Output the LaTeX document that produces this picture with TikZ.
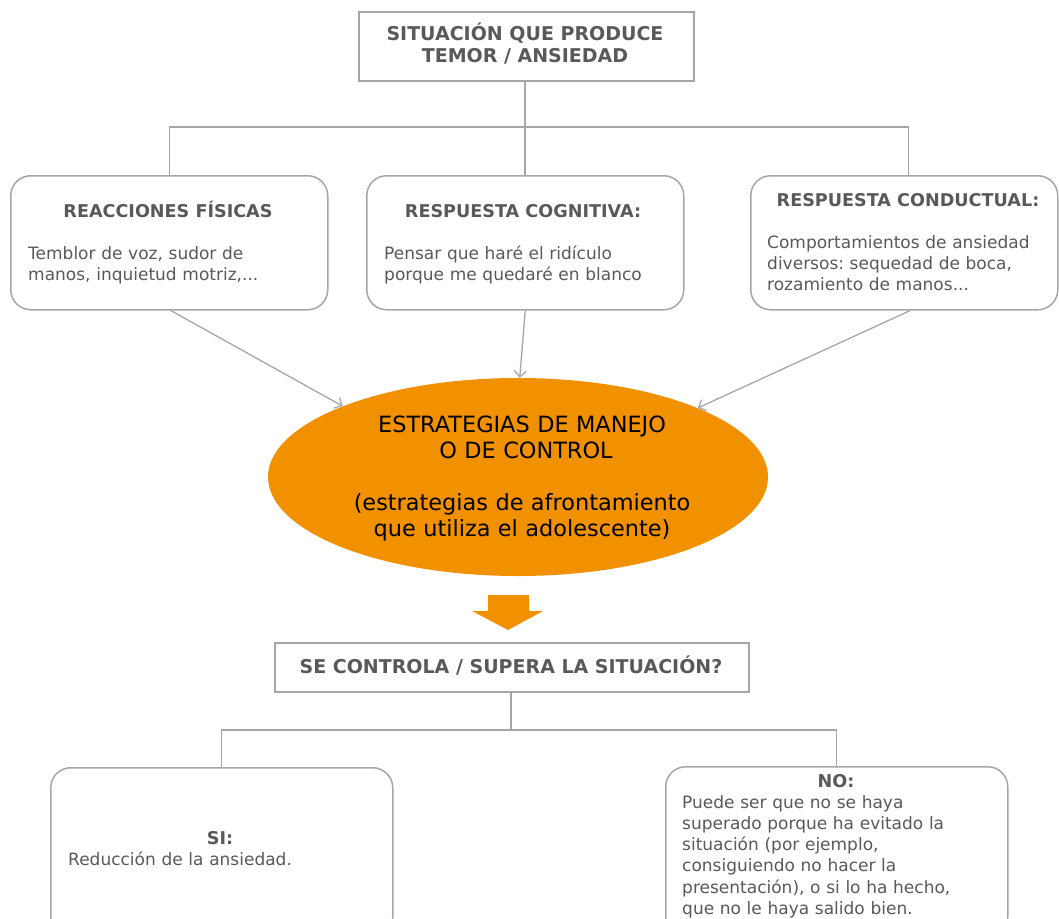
\documentclass[tikz,border=0pt]{standalone}
\usepackage{fontspec}
\setmainfont{DejaVu Sans}
\usetikzlibrary{shapes.geometric,arrows.meta}
\definecolor{linegray}{HTML}{A6A6A6}
\definecolor{txtgray}{HTML}{595959}
\definecolor{orng}{HTML}{F29100}
\frenchspacing
\tikzset{
 conn/.style={draw=linegray, line width=1.3pt},
 arr/.style={conn, -{Straight Barb[length=6pt,width=12pt]}},
 sqbox/.style={draw=linegray, line width=1.5pt, fill=white, inner sep=0},
 rbox/.style={sqbox, rounded corners=20pt},
 ttl/.style={text=txtgray, font=\bfseries\fontsize{17.6}{21}\selectfont, inner sep=0},
 bigttl/.style={text=txtgray, font=\bfseries\fontsize{19}{22}\selectfont, inner sep=0},
 body/.style={text=txtgray, font=\fontsize{17}{21.3}\selectfont\frenchspacing, inner sep=0, text width=330pt, align=left},
 elltxt/.style={text=black, font=\fontsize{22.4}{26}\selectfont, inner sep=0, text width=440pt, align=center}
}
\begin{document}
\begin{tikzpicture}[x=1pt,y=-1pt]
\useasboundingbox (0,0) rectangle (1059,918);
\clip (0,0) rectangle (1059,918);
\fill[white] (0,0) rectangle (1059,918);
% boxes
\node[sqbox, minimum width=335pt, minimum height=69pt, anchor=north west] (top) at (358,11) {};
\node[rbox, minimum width=317pt, minimum height=134pt, anchor=north west] (b1) at (10,175) {};
\node[rbox, minimum width=317pt, minimum height=134pt, anchor=north west] (b2) at (366,175) {};
\node[rbox, minimum width=307pt, minimum height=134pt, anchor=north west] (b3) at (750,175) {};
\node[ellipse, fill=orng, minimum width=500pt, minimum height=198pt, inner sep=0] (ell) at (518,477) {};
\node[sqbox, minimum width=474pt, minimum height=49pt, anchor=north west] (q) at (274,642) {};
\node[rbox, minimum width=342pt, minimum height=170pt, anchor=north west] (si) at (50,767) {};
\node[rbox, minimum width=342pt, minimum height=170pt, anchor=north west] (no) at (665,766) {};
% junctions
\coordinate (jt) at (525,127);
\coordinate (jq) at (511,730);
% connectors
\draw[conn] (top.south -| jt) -- (jt);
\draw[conn] (b1.north) -- (b1.north |- jt) -- ([xshift=4.5pt]b3.north |- jt) -- ([xshift=4.5pt]b3.north);
\draw[conn] (jt) -- (jt |- b2.north);
\draw[arr] ([xshift=1.5pt]b1.south) -- (ell.158);
\draw[arr] (b2.south) -- (ell.89);
\draw[arr] ([xshift=6pt]b3.south) -- (ell.21.6);
\draw[conn] (q.south -| jq) -- (jq);
\draw[conn] (si.north) -- (si.north |- jq) -- (no.north |- jq) -- (no.north);
% big orange arrow
\fill[orng] (488,595) -- (529,595) -- (529,611) -- (543,611) -- (508,630) -- (472,611) -- (488,611) -- cycle;
% texts
\node[bigttl, anchor=base] (t1) at (525,40) {SITUACIÓN QUE PRODUCE};
\node[bigttl, anchor=base] (t2) at (525,62) {TEMOR / ANSIEDAD};
\node[ttl, anchor=base] (h1) at (168,217) {REACCIONES FÍSICAS};
\node[body, anchor=base west] (x1) at (28,259) {Temblor de voz, sudor de\\manos, inquietud motriz,...};
\node[ttl, anchor=base] (h2) at (523,217) {RESPUESTA COGNITIVA:};
\node[body, anchor=base west] (x2) at (384,259) {Pensar que haré el ridículo\\porque me quedaré en blanco};
\node[ttl, anchor=base] (h3) at (908,206) {RESPUESTA CONDUCTUAL:};
\node[body, anchor=base west] (x3) at (767,248) {Comportamientos de ansiedad\\diversos: sequedad de boca,\\rozamiento de manos...};
\node[elltxt, anchor=base] (et) at (522,432) {ESTRATEGIAS DE MANEJO\\\hspace*{8pt}O DE CONTROL\\[26pt](estrategias de afrontamiento\\que utiliza el adolescente)};
\node[bigttl, anchor=base] (qt) at (511,673) {SE CONTROLA / SUPERA LA SITUACIÓN?};
\node[ttl, anchor=base] (sit) at (220,844) {SI:};
\node[body, anchor=base west] (six) at (68,865) {Reducción de la ansiedad.};
\node[ttl, anchor=base] (not) at (836,787) {NO:};
\node[body, anchor=base west] (nox) at (682,808) {Puede ser que no se haya\\superado porque ha evitado la\\situación (por ejemplo,\\consiguiendo no hacer la\\presentación), o si lo ha hecho,\\que no le haya salido bien.};
\end{tikzpicture}
\end{document}
